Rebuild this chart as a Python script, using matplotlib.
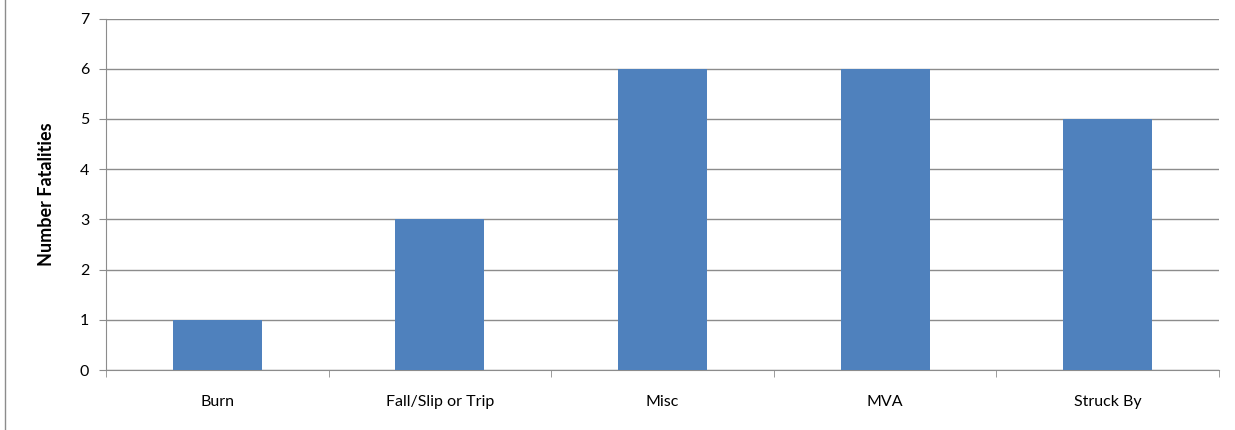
import matplotlib.pyplot as plt
from matplotlib.lines import Line2D
import numpy as np

categories = ['Burn', 'Fall/Slip or Trip', 'Misc', 'MVA', 'Struck By']
fatalities = [1, 3, 6, 6, 5]

plt.rcParams['font.family'] = ['Lato', 'DejaVu Sans']

fig = plt.figure(figsize=(12.35, 4.3), dpi=100)
ax = fig.add_axes([106 / 1235, 1 - 370 / 430, (1219 - 106) / 1235, (370 - 18.5) / 430])

x = np.arange(len(categories))
ax.bar(x, fatalities, width=0.4, color='#4F81BD', zorder=3)

ax.set_xlim(-0.5, len(categories) - 0.5)
ax.set_ylim(0, 7)
ax.set_yticks(range(0, 8))
ax.yaxis.grid(True, color='#8C8C8C', lw=1, zorder=0)

ax.set_xticks(x)
ax.set_xticklabels(categories, fontsize=11.5)
ax.set_xticks(np.arange(-0.5, len(categories)), minor=True)
ax.tick_params(axis='x', which='major', length=0, pad=18)
ax.tick_params(axis='x', which='minor', length=5, color='#8C8C8C', direction='out')
ax.tick_params(axis='y', length=5, color='#8C8C8C', labelsize=11.5, pad=7)

for s in ['top', 'right']:
    ax.spines[s].set_visible(False)
ax.spines['left'].set_color('#8C8C8C')
ax.spines['bottom'].set_color('#8C8C8C')

ax.set_ylabel('Number Fatalities', fontsize=13, fontweight='bold', labelpad=18)

fig.add_artist(Line2D([4.5 / 1235, 4.5 / 1235], [0, 1], color='#8C8C8C', lw=1))

fig.savefig('out.png', dpi=100)
